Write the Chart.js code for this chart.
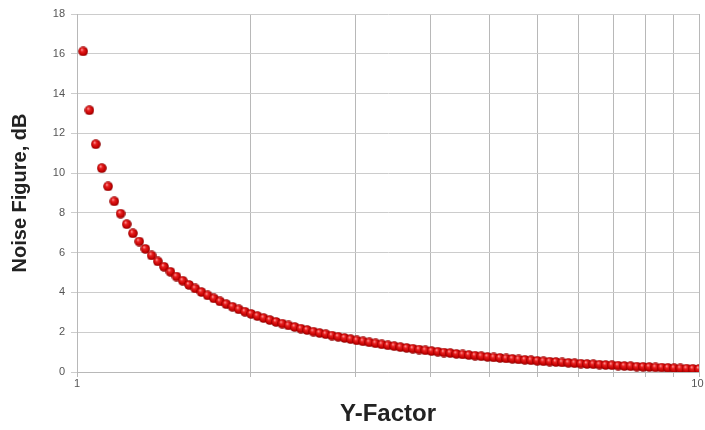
<!DOCTYPE html>
<html>
<head>
<meta charset="utf-8">
<script src="https://cdn.jsdelivr.net/npm/chart.js@4/dist/chart.umd.min.js"></script>
<style>
  html, body { margin: 0; padding: 0; background: #ffffff; }
  #wrap { width: 705px; height: 430px; }
</style>
</head>
<body>
<div id="wrap"><canvas id="c" width="705" height="430"></canvas></div>
<script>
// ---- data ----
const yFactor = [1.023, 1.047, 1.072, 1.096, 1.122, 1.148, 1.175, 1.202, 1.230, 1.259,
  1.288, 1.318, 1.349, 1.380, 1.413, 1.445, 1.479, 1.514, 1.549, 1.585,
  1.622, 1.660, 1.698, 1.738, 1.778, 1.820, 1.862, 1.905, 1.950, 1.995,
  2.042, 2.089, 2.138, 2.188, 2.239, 2.291, 2.344, 2.399, 2.455, 2.512,
  2.570, 2.630, 2.692, 2.754, 2.818, 2.884, 2.951, 3.020, 3.090, 3.162,
  3.236, 3.311, 3.388, 3.467, 3.548, 3.631, 3.715, 3.802, 3.890, 3.981,
  4.074, 4.169, 4.266, 4.365, 4.467, 4.571, 4.677, 4.786, 4.898, 5.012,
  5.129, 5.248, 5.370, 5.495, 5.623, 5.754, 5.888, 6.026, 6.166, 6.310,
  6.457, 6.607, 6.761, 6.918, 7.079, 7.244, 7.413, 7.586, 7.762, 7.943,
  8.128, 8.318, 8.511, 8.710, 8.913, 9.120, 9.333, 9.550, 9.772, 10.0];

const noiseFigure = [16.12, 13.16, 11.45, 10.25, 9.33, 8.58, 7.96, 7.43, 6.97, 6.56,
  6.19, 5.86, 5.56, 5.29, 5.04, 4.80, 4.59, 4.38, 4.20, 4.02,
  3.85, 3.70, 3.55, 3.41, 3.28, 3.15, 3.03, 2.92, 2.81, 2.71,
  2.61, 2.52, 2.43, 2.34, 2.26, 2.18, 2.11, 2.03, 1.96, 1.90,
  1.83, 1.77, 1.71, 1.65, 1.59, 1.54, 1.49, 1.44, 1.39, 1.34,
  1.30, 1.25, 1.21, 1.17, 1.13, 1.09, 1.05, 1.02, 0.98, 0.95,
  0.91, 0.88, 0.85, 0.82, 0.79, 0.76, 0.73, 0.71, 0.68, 0.66,
  0.63, 0.61, 0.59, 0.56, 0.54, 0.52, 0.50, 0.48, 0.46, 0.44,
  0.42, 0.40, 0.39, 0.37, 0.35, 0.34, 0.32, 0.30, 0.29, 0.27,
  0.26, 0.25, 0.23, 0.22, 0.21, 0.19, 0.18, 0.17, 0.16, 0.15];

const xGridValues = [1, 1.9, 2.8, 3.7, 4.6, 5.5, 6.4, 7.3, 8.2, 9.1, 10];
const xTickLabels = ['1', '', '', '', '', '', '', '', '', '', '10 '];
const yTicksMin = 0, yTicksMax = 18, yTicksStep = 2;

const xTitle = 'Y-Factor';
const yTitle = 'Noise Figure, dB';

// ---- sphere marker ----
function makeSphere(size) {
  const cv = document.createElement('canvas');
  cv.width = size; cv.height = size;
  const g = cv.getContext('2d');
  const r = size / 2;
  const grad = g.createRadialGradient(r * 0.72, r * 0.62, 0.3, r, r, r);
  grad.addColorStop(0, '#ff9a9a');
  grad.addColorStop(0.3, '#e82020');
  grad.addColorStop(0.75, '#c00000');
  grad.addColorStop(1, '#7c0000');
  g.fillStyle = grad;
  g.beginPath();
  g.arc(r, r, r - 0.2, 0, Math.PI * 2);
  g.fill();
  return cv;
}
const sphere = makeSphere(10);

const points = yFactor.map((x, i) => ({ x: x, y: noiseFigure[i] }));

new Chart(document.getElementById('c'), {
  type: 'scatter',
  data: {
    datasets: [{
      data: points,
      pointStyle: sphere,
      pointRadius: 5,
      pointHoverRadius: 5,
      showLine: false
    }]
  },
  options: {
    responsive: false,
    animation: false,
    events: [],
    layout: { padding: { top: 14, right: 5, left: 0, bottom: 0 } },
    plugins: { legend: { display: false }, tooltip: { enabled: false } },
    scales: {
      x: {
        type: 'logarithmic',
        min: 1,
        max: 10,
        afterBuildTicks: (scale) => {
          scale.ticks = xGridValues.map(v => ({ value: v }));
        },
        afterFit: (scale) => {
          scale.height = 58;
          scale.paddingRight = 0;
          scale.paddingLeft = 0;
        },
        ticks: {
          autoSkip: false,
          maxRotation: 0,
          padding: 0,
          color: '#555555',
          font: { family: 'Liberation Sans', size: 11 },
          callback: (value, index) => xTickLabels[index]
        },
        grid: { color: '#b8b8b8', lineWidth: 1, tickLength: 5, drawTicks: true },
        border: { color: '#b8b8b8', width: 1 },
        title: {
          display: true,
          text: xTitle,
          color: '#222222',
          font: { family: 'Liberation Sans', size: 24, weight: 'bold' },
          padding: { top: 0, bottom: 1 }
        }
      },
      y: {
        min: yTicksMin,
        max: yTicksMax,
        afterFit: (scale) => { scale.width = 77; },
        ticks: {
          stepSize: yTicksStep,
          padding: 6,
          color: '#555555',
          font: { family: 'Liberation Sans', size: 11 }
        },
        grid: { color: '#cccccc', lineWidth: 1, tickLength: 6 },
        border: { color: '#b8b8b8', width: 1 },
        title: {
          display: true,
          text: yTitle,
          color: '#222222',
          font: { family: 'Liberation Sans', size: 20, weight: 'bold' },
          padding: { top: 8, bottom: 0 }
        }
      }
    }
  }
});
</script>
</body>
</html>
